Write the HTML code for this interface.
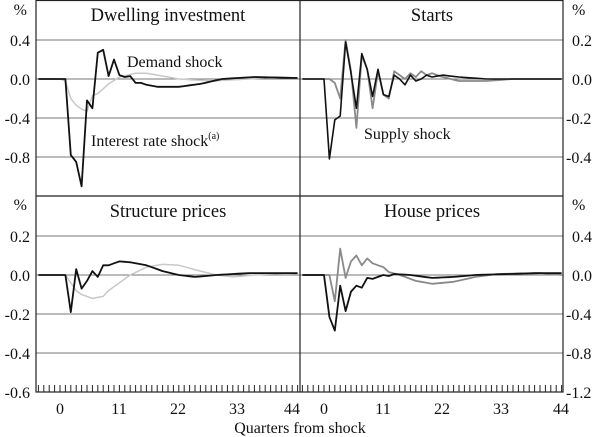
<!DOCTYPE html>
<html><head><style>
html,body{margin:0;padding:0;background:#fff;width:600px;height:437px;overflow:hidden}
text{font-family:"Liberation Serif",serif;fill:#111}
</style></head><body>
<svg id="s" width="600" height="437" xmlns="http://www.w3.org/2000/svg">
<g stroke="#777" stroke-width="1">
<line x1="36" y1="40" x2="563" y2="40"/><line x1="36" y1="79" x2="563" y2="79"/>
<line x1="36" y1="118" x2="563" y2="118"/><line x1="36" y1="157" x2="563" y2="157"/>
<line x1="36" y1="236" x2="563" y2="236"/><line x1="36" y1="275" x2="563" y2="275"/>
<line x1="36" y1="314" x2="563" y2="314"/><line x1="36" y1="353" x2="563" y2="353"/>
</g>
<g stroke="#222" stroke-width="1.2" fill="none">
<rect x="36" y="0.5" width="527" height="391.5"/>
<line x1="36" y1="196" x2="563" y2="196"/>
<line x1="300" y1="0" x2="300" y2="392"/>
</g>
<g id="ticks" stroke="#222" stroke-width="1"></g>
<g id="lines" fill="none" stroke-linejoin="round"></g>
<g font-size="18.5" text-anchor="middle">
<text x="168" y="21">Dwelling investment</text>
<text x="432" y="21">Starts</text>
<text x="168" y="217">Structure prices</text>
<text x="432" y="217">House prices</text>
</g>
<g font-size="16">
<text x="127" y="67">Demand shock</text>
<text x="91" y="146">Interest rate shock<tspan font-size="10" dy="-7">(a)</tspan></text>
<text x="364" y="139">Supply shock</text>
</g>
<g font-size="16" text-anchor="end">
<text x="27" y="15">%</text><text x="30" y="46">0.4</text><text x="30" y="85">0.0</text>
<text x="30" y="124">-0.4</text><text x="30" y="163">-0.8</text>
<text x="27" y="210">%</text><text x="30" y="242">0.2</text><text x="30" y="281">0.0</text>
<text x="30" y="320">-0.2</text><text x="30" y="359">-0.4</text><text x="30" y="398">-0.6</text>
</g>
<g font-size="16" text-anchor="start">
<text x="572" y="15">%</text><text x="572" y="46">0.2</text><text x="572" y="85">0.0</text>
<text x="566" y="124">-0.2</text><text x="566" y="163">-0.4</text>
<text x="572" y="210">%</text><text x="572" y="242">0.4</text><text x="572" y="281">0.0</text>
<text x="566" y="320">-0.4</text><text x="566" y="359">-0.8</text><text x="566" y="398">-1.2</text>
</g>
<g font-size="16" text-anchor="middle">
<text x="60" y="414">0</text><text x="119" y="414">11</text><text x="178" y="414">22</text>
<text x="237" y="414">33</text><text x="292" y="414">44</text>
<text x="324" y="414">0</text><text x="383" y="414">11</text><text x="442" y="414">22</text>
<text x="501" y="414">33</text><text x="561" y="414">44</text>
<text x="300" y="433">Quarters from shock</text>
</g>
</svg>
<script>
var NS="http://www.w3.org/2000/svg";
var tk=document.getElementById("ticks");
function add(p,a){var e=document.createElementNS(NS,p);for(var k in a)e.setAttribute(k,a[k]);return e;}
[36+24,300+24].forEach(function(x0){for(var q=-4;q<=44;q++){var x=x0+5.4*q;if(x<37||x>562||Math.abs(x-300)<1)continue;tk.appendChild(add("line",{x1:x,y1:385,x2:x,y2:392}));}});
function interp(pts){var out=[];for(var q=-4;q<=44;q++){var v=0;for(var i=0;i<pts.length-1;i++){if(q>=pts[i][0]&&q<=pts[i+1][0]){var t=(q-pts[i][0])/(pts[i+1][0]-pts[i][0]);v=pts[i][1]+t*(pts[i+1][1]-pts[i][1]);break;}}out.push([q,v]);}return out;}
var L=document.getElementById("lines");
function draw(pts,x0,y0,scale,col,w){var d=interp(pts).map(function(p,i){return (i?"L":"M")+(x0+5.4*p[0]).toFixed(1)+","+(y0-p[1]*scale).toFixed(1);}).join("");L.appendChild(add("path",{d:d,stroke:col,"stroke-width":w}));}
var LG="#c8c8c8",MG="#8a8a8a",BK="#111";
draw([[-4,0],[0,0],[1,-0.02],[2,-0.2],[3,-0.27],[4,-0.31],[5,-0.33],[6,-0.17],[7,-0.15],[8,-0.1],[9,-0.05],[11,0.02],[14,0.06],[16,0.06],[22,0],[28,-0.02],[35,0],[40,0.02],[44,0.01]],60,79,97.5,LG,1.5);
draw([[-4,0],[1,0],[2,-0.78],[3,-0.85],[4,-1.1],[5,-0.22],[6,-0.3],[7,0.27],[8,0.3],[9,0.03],[10,0.2],[11,0.04],[12,0.02],[13,0.03],[14,-0.04],[15,-0.04],[16,-0.06],[18,-0.08],[22,-0.08],[26,-0.05],[30,0],[36,0.02],[44,0.01]],60,79,97.5,BK,1.8);
draw([[-4,0],[1,0],[2,-0.02],[3,-0.1],[4,0.2],[5,0.04],[6,-0.25],[7,0.12],[8,0.05],[9,-0.15],[10,0.04],[11,-0.08],[12,-0.1],[13,0.04],[14,0.02],[15,0],[16,0.03],[17,0.01],[18,0.04],[19,0.02],[20,0.03],[22,0.01],[25,-0.01],[30,-0.01],[35,0],[44,0]],324,79,195,MG,1.8);
draw([[-4,0],[0,0],[1,-0.41],[2,-0.21],[3,-0.19],[4,0.19],[5,0.03],[6,-0.15],[7,0.13],[8,0.05],[9,-0.09],[10,0.05],[11,-0.08],[12,-0.09],[13,0.02],[14,0.0],[15,-0.03],[16,0.02],[17,-0.01],[18,0.0],[19,0.02],[20,0.01],[22,0.02],[25,0.01],[30,0],[44,0]],324,79,195,BK,1.6);
draw([[-4,0],[1,0],[2,-0.04],[3,-0.08],[4,-0.1],[6,-0.12],[8,-0.11],[9,-0.08],[11,-0.04],[13,0],[16,0.04],[19,0.055],[22,0.05],[26,0.02],[29,0],[32,-0.01],[36,0],[42,0.01],[44,0.005]],60,275,195,LG,1.5);
draw([[-4,0],[1,0],[2,-0.19],[3,0.03],[4,-0.07],[5,-0.03],[6,0.02],[7,-0.01],[8,0.05],[9,0.05],[10,0.06],[11,0.07],[13,0.065],[16,0.05],[19,0.02],[22,0],[25,-0.01],[29,0],[35,0.01],[42,0.01],[44,0.01]],60,275,195,BK,1.8);
draw([[-4,0],[1,0],[2,-0.27],[3,0.27],[4,-0.03],[5,0.14],[6,0.2],[7,0.1],[8,0.17],[9,0.12],[10,0.1],[11,0.08],[12,0.03],[14,0],[17,-0.06],[20,-0.09],[24,-0.07],[28,-0.02],[32,0.01],[40,0.02],[44,0]],324,275,97.5,MG,1.8);
draw([[-4,0],[0,0],[1,-0.43],[2,-0.57],[3,-0.11],[4,-0.37],[5,-0.17],[6,-0.11],[7,-0.13],[8,-0.03],[9,-0.04],[10,-0.02],[11,0.0],[12,-0.01],[13,0.01],[16,0],[20,-0.03],[24,-0.02],[28,0],[40,0.02],[44,0.02]],324,275,97.5,BK,1.8);
</script>
</body></html>
